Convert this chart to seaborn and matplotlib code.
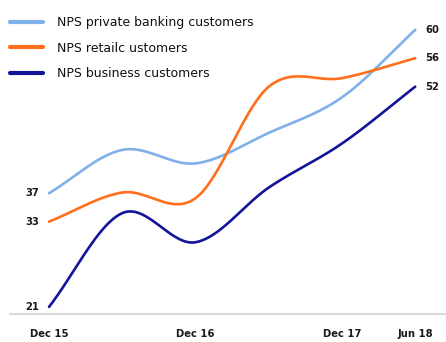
import numpy as np
import pandas as pd
import matplotlib
matplotlib.use("Agg")
import matplotlib.pyplot as plt
import seaborn as sns

# Half-yearly NPS scores, Dec 15 through Jun 18
periods = ["Dec 15", "Jun 16", "Dec 16", "Jun 17", "Dec 17", "Jun 18"]
private_banking = [37, 43.1, 41.2, 45.5, 50.5, 60]
retail = [33, 37.1, 36.3, 52.0, 53.2, 56]
business = [21, 34.2, 30.1, 37.8, 44.0, 52]

series_names = ["NPS private banking customers", "NPS retailc ustomers", "NPS business customers"]
series_values = [private_banking, retail, business]
colors = ["#7fb0ea", "#ff6f1c", "#14149a"]

tick_positions = [0, 2, 4, 5]
tick_labels = ["Dec 15", "Dec 16", "Dec 17", "Jun 18"]


def smooth(values, steps=40):
    """Catmull-Rom curve through the points (like a spreadsheet's smoothed line)."""
    p = np.asarray(values, dtype=float)
    ext = np.concatenate([[2 * p[0] - p[1]], p, [2 * p[-1] - p[-2]]])
    xs, ys = [], []
    for i in range(len(p) - 1):
        p0, p1, p2, p3 = ext[i], ext[i + 1], ext[i + 2], ext[i + 3]
        t = np.linspace(0, 1, steps, endpoint=(i == len(p) - 2))
        y = 0.5 * ((2 * p1) + (-p0 + p2) * t + (2 * p0 - 5 * p1 + 4 * p2 - p3) * t ** 2
                   + (-p0 + 3 * p1 - 3 * p2 + p3) * t ** 3)
        xs.append(i + t)
        ys.append(y)
    return np.concatenate(xs), np.concatenate(ys)


frames = []
for name, vals in zip(series_names, series_values):
    x, y = smooth(vals)
    frames.append(pd.DataFrame({"t": x, "value": y, "series": name}))
df = pd.concat(frames, ignore_index=True)

sns.set_style("white")
plt.rcParams["font.family"] = ["DejaVu Sans"]

fig = plt.figure(figsize=(4.46, 3.42), dpi=100)
ax = fig.add_axes([10 / 446, 28 / 342, 436 / 446, 314 / 342])

sns.lineplot(data=df, x="t", y="value", hue="series", palette=colors,
             linewidth=1.9, ax=ax, sort=False, estimator=None)

ax.set_xlim(-0.533, 5.42)
ax.set_ylim(20, 64.2)
for s in ["top", "right", "left"]:
    ax.spines[s].set_visible(False)
ax.spines["bottom"].set_color("#d9d9d9")
ax.spines["bottom"].set_linewidth(1.5)
ax.set_yticks([])
ax.set_xticks(tick_positions)
ax.set_xticklabels(tick_labels, fontsize=7.2, color="#1a1a1a", fontweight="bold")
ax.tick_params(axis="x", length=0, pad=11)
ax.set_xlabel("")
ax.set_ylabel("")

# End-point value labels
for vals in series_values:
    ax.text(-0.14, vals[0], f"{vals[0]:g}", ha="right", va="center", fontsize=7.2,
            color="#1a1a1a", fontweight="bold")
    ax.text(5.14, vals[-1], f"{vals[-1]:g}", ha="left", va="center", fontsize=7.2,
            color="#1a1a1a", fontweight="bold")

leg = ax.legend(loc="upper left", bbox_to_anchor=(10 / 446, 1 - 16 / 342),
                bbox_transform=fig.transFigure, frameon=False,
                fontsize=9, handlelength=2.65, handletextpad=1.1, labelspacing=1.0,
                borderaxespad=0, borderpad=0)
for line in leg.get_lines():
    line.set_linewidth(3)
for txt in leg.get_texts():
    txt.set_color("#111111")

fig.savefig("out.png", dpi=100)
